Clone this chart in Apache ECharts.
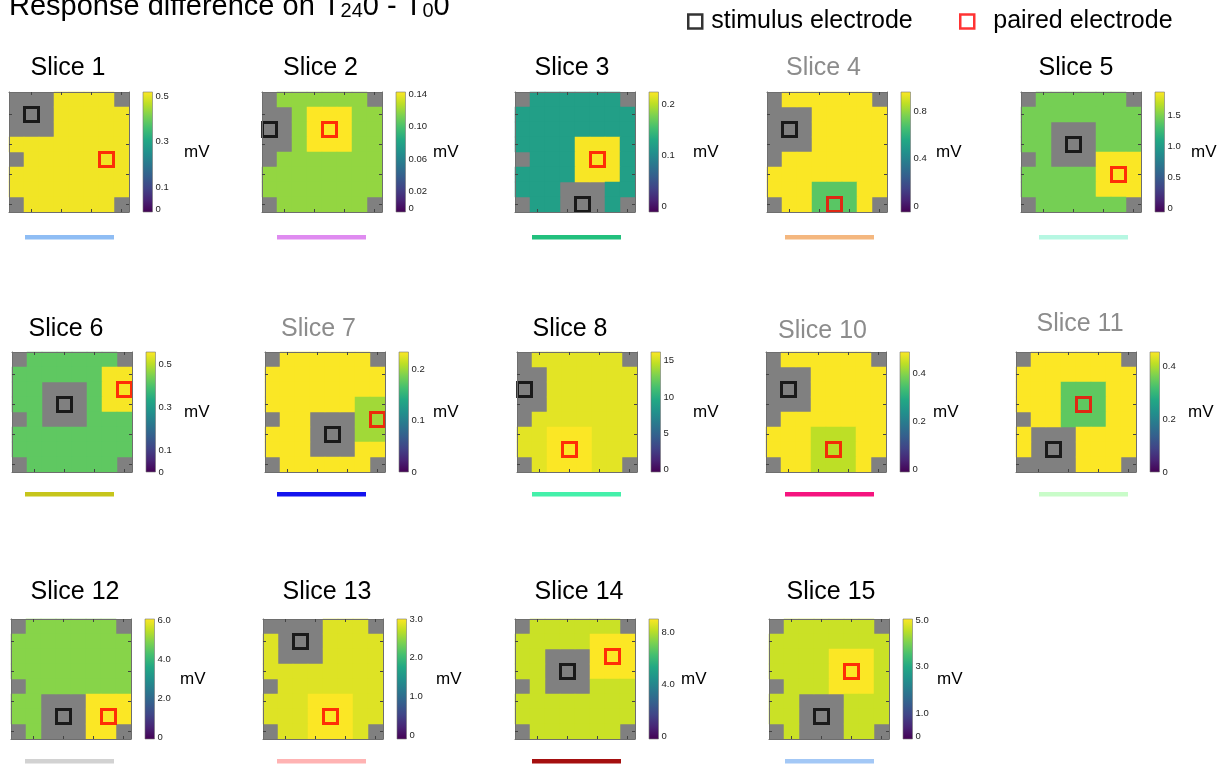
<!DOCTYPE html>
<html>
<head>
<meta charset="utf-8">
<title>Response difference</title>
<script src="https://cdn.jsdelivr.net/npm/echarts@6/dist/echarts.min.js"></script>
<style>
  html, body { margin: 0; padding: 0; background: #fff; }
  #main { width: 1227px; height: 765px; }
</style>
</head>
<body>
<div id="main"></div>
<script>
// 每个切片的数据
var sliceNames = ["Slice 1", "Slice 2", "Slice 3", "Slice 4", "Slice 5",
  "Slice 6", "Slice 7", "Slice 8", "Slice 10", "Slice 11",
  "Slice 12", "Slice 13", "Slice 14", "Slice 15"];
var sliceDimmed = [false, false, false, true, false,
  false, true, false, true, true,
  false, false, false, false];

// x = 无数据(灰), a = 其余电极, b = 配对电极周围
var cellMaps = [
  ["xxxaaaax", "xxxaaaaa", "xxxaaaaa", "aaaaabbb", "xaaaabbb", "aaaaabbb", "aaaaaaaa", "xaaaaaax"],
  ["xaaaaaax", "xxabbbaa", "xxabbbaa", "xxabbbaa", "xaaaaaaa", "aaaaaaaa", "aaaaaaaa", "xaaaaaax"],
  ["xaaaaaax", "aaaaaaaa", "aaaaaaaa", "aaaabbba", "xaaabbba", "aaaabbba", "aaaxxxaa", "xaaxxxax"],
  ["xaaaaaax", "xxxaaaaa", "xxxaaaaa", "xxxaaaaa", "xaaaaaaa", "aaaaaaaa", "aaabbbaa", "xaabbbax"],
  ["xaaaaaax", "aaaaaaaa", "aaxxxaaa", "aaxxxaaa", "xaxxxbbb", "aaaaabbb", "aaaaabbb", "xaaaaaax"],
  ["xaaaaaax", "aaaaaabb", "aaxxxabb", "aaxxxabb", "xaxxxaaa", "aaaaaaaa", "aaaaaaaa", "xaaaaaax"],
  ["xaaaaaax", "aaaaaaaa", "aaaaaaaa", "aaaaaabb", "xaaxxxbb", "aaaxxxbb", "aaaxxxaa", "xaaaaaax"],
  ["xaaaaaax", "xxaaaaaa", "xxaaaaaa", "xxaaaaaa", "xaaaaaaa", "aabbbaaa", "aabbbaaa", "xabbbaax"],
  ["xaaaaaax", "xxxaaaaa", "xxxaaaaa", "xxxaaaaa", "xaaaaaaa", "aaabbbaa", "aaabbbaa", "xaabbbax"],
  ["xaaaaaax", "aaaaaaaa", "aaabbbaa", "aaabbbaa", "xaabbbaa", "axxxaaaa", "axxxaaaa", "xxxxaaax"],
  ["xaaaaaax", "aaaaaaaa", "aaaaaaaa", "aaaaaaaa", "xaaaaaaa", "aaxxxbbb", "aaxxxbbb", "xaxxxbbx"],
  ["xxxxaaax", "axxxaaaa", "axxxaaaa", "aaaaaaaa", "xaaaaaaa", "aaabbbaa", "aaabbbaa", "xaabbbax"],
  ["xaaaaaax", "aaaaabbb", "aaxxxbbb", "aaxxxbbb", "xaxxxaaa", "aaaaaaaa", "aaaaaaaa", "xaaaaaax"],
  ["xaaaaaax", "aaaaaaaa", "aaaabbba", "aaaabbba", "xaaabbba", "aaxxxaaa", "aaxxxaaa", "xaxxxaax"]
];
var restValues = [0.51, 0.119, 0.12, 0.96, 1.465, 0.42, 0.232, 15.54, 0.488, 0.452, 4.94, 2.85, 8.26, 4.64];
var pairedValues = [0.51, 0.143, 0.222, 0.70, 1.86, 0.555, 0.20, 16.15, 0.44, 0.34, 6.03, 2.99, 8.98, 5.03];

// [列, 行]
var stimElectrode = [[1, 1], [0, 2], [4, 7], [1, 2], [3, 3], [3, 3], [4, 5], [0, 2], [1, 2], [2, 6], [3, 6], [2, 1], [3, 3], [3, 6]];
var pairedElectrode = [[6, 4], [4, 2], [5, 4], [4, 7], [6, 5], [7, 2], [7, 4], [3, 6], [4, 6], [4, 3], [6, 6], [4, 6], [6, 2], [5, 3]];

var cbMin = [-0.01, -0.005, -0.012, -0.05, -0.06, 0, 0, -0.3, -0.01, 0, -0.1, -0.1, -0.2, -0.1];
var cbMax = [0.52, 0.143, 0.224, 0.965, 1.87, 0.56, 0.233, 16.2, 0.49, 0.453, 6.05, 3.0, 9.0, 5.05];
var cbTicks = [
  [0, 0.1, 0.3, 0.5], [0, 0.02, 0.06, 0.10, 0.14], [0, 0.1, 0.2], [0, 0.4, 0.8], [0, 0.5, 1.0, 1.5],
  [0, 0.1, 0.3, 0.5], [0, 0.1, 0.2], [0, 5, 10, 15], [0, 0.2, 0.4], [0, 0.2, 0.4],
  [0, 2, 4, 6], [0, 1, 2, 3], [0, 4, 8], [0, 1, 3, 5]
];
var cbTickLabels = [
  ["0", "0.1", "0.3", "0.5"], ["0", "0.02", "0.06", "0.10", "0.14"], ["0", "0.1", "0.2"], ["0", "0.4", "0.8"], ["0", "0.5", "1.0", "1.5"],
  ["0", "0.1", "0.3", "0.5"], ["0", "0.1", "0.2"], ["0", "5", "10", "15"], ["0", "0.2", "0.4"], ["0", "0.2", "0.4"],
  ["0", "2.0", "4.0", "6.0"], ["0", "1.0", "2.0", "3.0"], ["0", "4.0", "8.0"], ["0", "1.0", "3.0", "5.0"]
];
var sliceColors = ["#8fbdf4", "#df8bf0", "#22c07d", "#f4b77f", "#b6f7e2",
  "#c6c51b", "#1414ee", "#44f0aa", "#f5147f", "#c9fcc9",
  "#d2d2d2", "#ffb3b3", "#a50f0f", "#a3c8f6"];

// 布局
var panelLeft = [9, 262, 515, 767, 1021, 12, 265, 517, 766, 1016, 11, 263, 515, 769];
var panelRow = [0, 0, 0, 0, 0, 1, 1, 1, 1, 1, 2, 2, 2, 2];
var panelCol = [0, 1, 2, 3, 4, 0, 1, 2, 3, 4, 0, 1, 2, 3];
var rowTop = [92, 352, 619];
var titleCenter = [68, 320.5, 572, 823.5, 1076, 66, 318.5, 570, 822.5, 1080, 75, 327, 579, 831];
var titleTop = [56, 56, 56, 56, 56, 317, 317, 317, 319, 312, 580, 580, 580, 580];
var mvLeft = [184, 433, 693, 936, 1191, 184, 433, 693, 933, 1188, 180, 436, 681, 937];
var barLeft = [25, 277, 532, 785, 1039];
var barTop = [235, 492, 759];

var viridis = ["#440154", "#482475", "#414487", "#355f8d", "#2a788e", "#21918c",
  "#22a884", "#44bf70", "#7ad151", "#bddf26", "#fde725"];
var cbStops = viridis.map(function (c, k) {
  return { offset: k / (viridis.length - 1), color: c };
});

var chart = echarts.init(document.getElementById("main"));
var cols = ["1", "2", "3", "4", "5", "6", "7", "8"];

var grids = [], xAxes = [], yAxes = [], series = [], visualMaps = [], graphics = [];
var titles = [{
  text: "Response difference on T{s|24}0 - T{s|0}0",
  left: 9,
  top: -8,
  padding: 0,
  textStyle: {
    fontSize: 29, fontWeight: "normal", color: "#000",
    rich: { s: { fontSize: 20, verticalAlign: "bottom", color: "#000" } }
  }
}];

function cellAxis(dim, gridIndex, pos) {
  var ax = {
    type: "category",
    gridIndex: gridIndex,
    position: pos,
    data: cols,
    z: 5,
    axisLine: { show: true, onZero: false, lineStyle: { color: "#6e6e6e", width: 1 } },
    axisTick: {
      show: true, inside: true, length: 3, alignWithLabel: true,
      interval: function (idx) { return idx % 2 === 1; },
      lineStyle: { color: "#444" }
    },
    axisLabel: { show: false },
    splitLine: { show: false }
  };
  if (dim === "y") ax.inverse = true;
  return ax;
}

sliceNames.forEach(function (name, i) {
  var top = rowTop[panelRow[i]];
  var left = panelLeft[i];
  var gHeat = grids.length;
  // 15px 整数格子, 避免格子之间出现缝隙
  grids.push({ left: left, top: top, width: 120, height: 120, show: true, backgroundColor: "#808080", borderWidth: 0 });
  grids.push({ left: left + 134, top: top, width: 9.5, height: 120 });

  var xi = xAxes.length, yi = yAxes.length;
  xAxes.push(cellAxis("x", gHeat, "bottom"), cellAxis("x", gHeat, "top"));
  yAxes.push(cellAxis("y", gHeat, "left"), cellAxis("y", gHeat, "right"));

  // colorbar
  xAxes.push({ type: "value", gridIndex: gHeat + 1, min: 0, max: 1, show: false });
  yAxes.push({
    type: "value", gridIndex: gHeat + 1, position: "right",
    min: cbMin[i], max: cbMax[i],
    axisLine: { show: false }, axisTick: { show: false }, splitLine: { show: false },
    axisLabel: {
      customValues: cbTicks[i], fontSize: 9.5, color: "#222", margin: 3,
      formatter: function (v) {
        var k = cbTicks[i].indexOf(v);
        return k < 0 ? "" : cbTickLabels[i][k];
      }
    }
  });

  var cells = [];
  cellMaps[i].forEach(function (row, r) {
    for (var c = 0; c < 8; c++) {
      var ch = row.charAt(c);
      if (ch === "a") cells.push([c, r, restValues[i]]);
      else if (ch === "b") cells.push([c, r, pairedValues[i]]);
    }
  });

  visualMaps.push({
    type: "continuous", show: false, seriesIndex: series.length, dimension: 2,
    min: cbMin[i], max: cbMax[i], inRange: { color: viridis }
  });
  series.push({
    type: "heatmap", xAxisIndex: xi, yAxisIndex: yi, data: cells,
    itemStyle: { borderWidth: 0 }, silent: true
  });
  series.push({
    name: "stimulus electrode", type: "scatter", xAxisIndex: xi, yAxisIndex: yi, z: 4,
    data: [stimElectrode[i]], symbol: "rect", symbolSize: 14, silent: true,
    itemStyle: { color: "rgba(0,0,0,0)", borderColor: "#000", borderWidth: 3 }
  });
  series.push({
    name: "paired electrode", type: "scatter", xAxisIndex: xi, yAxisIndex: yi, z: 4,
    data: [pairedElectrode[i]], symbol: "rect", symbolSize: 14, silent: true,
    itemStyle: { color: "rgba(0,0,0,0)", borderColor: "#ff0000", borderWidth: 3 }
  });
  series.push({
    type: "custom", xAxisIndex: xi + 2, yAxisIndex: yi + 2, silent: true,
    data: [[0, cbMin[i], cbMax[i]]],
    renderItem: function (params, api) {
      var p0 = api.coord([0, api.value(2)]);
      var p1 = api.coord([1, api.value(1)]);
      return {
        type: "rect",
        shape: { x: p0[0], y: p0[1], width: p1[0] - p0[0], height: p1[1] - p0[1] },
        style: { fill: new echarts.graphic.LinearGradient(0, 1, 0, 0, cbStops), stroke: "#777", lineWidth: 0.6 }
      };
    }
  });

  titles.push({
    text: name, left: titleCenter[i], top: titleTop[i], textAlign: "center", padding: 0,
    textStyle: { fontSize: 25, fontWeight: "normal", color: sliceDimmed[i] ? "#8c8c8c" : "#000" }
  });
  titles.push({
    text: "mV", left: mvLeft[i], top: top + 52, padding: 0,
    textStyle: { fontSize: 17, fontWeight: "normal", color: "#000" }
  });

  graphics.push({
    type: "rect", left: barLeft[panelCol[i]], top: barTop[panelRow[i]],
    shape: { width: 89, height: 4.5 }, style: { fill: sliceColors[i] }
  });
});

var legendText = { fontSize: 25, color: "#000" };
var option = {
  animation: false,
  backgroundColor: "#fff",
  textStyle: { fontFamily: "Liberation Sans, Arial, sans-serif" },
  title: titles,
  legend: [{
    left: 687, top: 9, padding: 0,
    itemWidth: 14, itemHeight: 14, selectedMode: false,
    textStyle: Object.assign({ padding: [0, 0, 0, 4] }, legendText),
    data: [{ name: "stimulus electrode", icon: "rect", itemStyle: { color: "rgba(0,0,0,0)", borderColor: "#000", borderWidth: 2.5 } }]
  }, {
    left: 959, top: 9, padding: 0,
    itemWidth: 14, itemHeight: 14, selectedMode: false,
    textStyle: Object.assign({ padding: [0, 0, 0, 14] }, legendText),
    data: [{ name: "paired electrode", icon: "rect", itemStyle: { color: "rgba(0,0,0,0)", borderColor: "#ff0000", borderWidth: 2.5 } }]
  }],
  grid: grids,
  xAxis: xAxes,
  yAxis: yAxes,
  visualMap: visualMaps,
  graphic: graphics,
  series: series
};
chart.setOption(option);
</script>
</body>
</html>
